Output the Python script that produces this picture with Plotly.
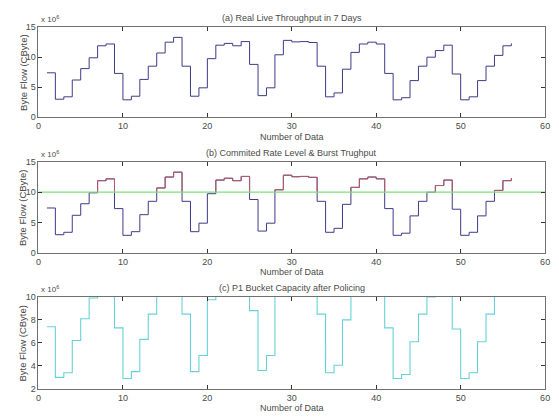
import plotly.graph_objects as go

# ---- data (x10^6 CByte) ----
sample_index = list(range(1, 57))
byte_flow = [7.4, 3.0, 3.4, 6.2, 8.1, 9.9, 11.9, 12.2, 7.3, 2.9,
             3.5, 6.3, 8.5, 10.7, 12.5, 13.3, 8.5, 3.5, 4.9, 9.75,
             12.0, 12.3, 11.9, 12.6, 8.8, 3.6, 4.9, 10.4, 12.8, 12.55,
             12.6, 12.45, 8.5, 3.4, 4.05, 8.0, 10.8, 12.2, 12.5, 12.2,
             7.3, 2.9, 3.25, 6.1, 8.5, 10.0, 11.1, 12.0, 7.2, 2.9,
             3.4, 6.1, 8.5, 10.3, 11.9, 12.3]
rate_level = 10
x_ticks = [0, 10, 20, 30, 40, 50, 60]
y_ticks_ab = [0, 5, 10, 15]
y_ticks_c = [2, 4, 6, 8, 10]
titles = ["(a) Real Live Throughput in 7 Days",
          "(b) Commited Rate Level & Burst Trughput",
          "(c) P1 Bucket Capacity after Policing"]
x_title = "Number of Data"
y_title = "Byte Flow (CByte)"

W, H = 559, 418
FONT = "Liberation Sans Narrow, Arial Narrow, Liberation Sans, Arial"
NAVY = "#3c3c86"
RED = "#b85a68"
GREEN = "#7edc7e"
CYAN = "#66d2d8"
AXC = "#707070"
TXT = "#4a4a4a"


def step_vertices(x, v):
    pts = []
    for i in range(len(x)):
        if i > 0:
            pts.append((x[i], v[i - 1]))
        pts.append((x[i], v[i]))
    return pts


def clip_above(pts, thr):
    xs, ys = [], []
    last = None
    for (x0, y0), (x1, y1) in zip(pts[:-1], pts[1:]):
        if y0 == y1:
            if y0 <= thr:
                continue
            a, b = (x0, y0), (x1, y1)
        else:
            lo, hi = min(y0, y1), max(y0, y1)
            if hi <= thr:
                continue
            lo = max(lo, thr)
            if y0 < y1:
                a, b = (x0, lo), (x1, hi)
            else:
                a, b = (x0, hi), (x1, lo)
        if last is None or last != a:
            if xs:
                xs.append(None)
                ys.append(None)
            xs.append(a[0])
            ys.append(a[1])
        xs.append(b[0])
        ys.append(b[1])
        last = b
    return xs, ys


fig = go.Figure()

# panel domains (pixel -> paper)
x_dom = [36 / W, 550 / W]
panels = [(22.7, 115.0), (160.7, 254.0), (299.0, 393.3)]
y_doms = [[1 - b / H, 1 - t / H] for t, b in panels]

# (a)
fig.add_trace(go.Scatter(x=sample_index, y=byte_flow, mode="lines",
                         line=dict(color=NAVY, width=1.0, shape="hv"),
                         xaxis="x", yaxis="y", showlegend=False))
# (b)
fig.add_trace(go.Scatter(x=sample_index, y=byte_flow, mode="lines",
                         line=dict(color=NAVY, width=1.0, shape="hv"),
                         xaxis="x2", yaxis="y2", showlegend=False))
rx, ry = clip_above(step_vertices(sample_index, byte_flow), rate_level)
fig.add_trace(go.Scatter(x=rx, y=ry, mode="lines",
                         line=dict(color=RED, width=1.0),
                         xaxis="x2", yaxis="y2", showlegend=False))
fig.add_trace(go.Scatter(x=[x_ticks[0], x_ticks[-1]], y=[rate_level, rate_level],
                         mode="lines", line=dict(color=GREEN, width=1.2),
                         xaxis="x2", yaxis="y2", showlegend=False))
# (c)
fig.add_trace(go.Scatter(x=sample_index, y=byte_flow, mode="lines",
                         line=dict(color=CYAN, width=1.1, shape="hv"),
                         xaxis="x3", yaxis="y3", showlegend=False))

axis_common = dict(showline=True, linecolor=AXC, linewidth=1, mirror="ticks",
                   ticks="inside", ticklen=4, tickcolor="#333", tickwidth=1,
                   showgrid=False, zeroline=False,
                   tickfont=dict(family=FONT, size=9, color=TXT))

layout = dict(width=W, height=H, margin=dict(l=0, r=0, t=0, b=0),
              paper_bgcolor="white", plot_bgcolor="white",
              font=dict(family=FONT, color=TXT))
yranges = [[0, 15], [0, 15], [2, 10]]
yticks = [y_ticks_ab, y_ticks_ab, y_ticks_c]
for i in range(3):
    sfx = "" if i == 0 else str(i + 1)
    layout["xaxis" + sfx] = dict(axis_common, domain=x_dom, range=[0, 60],
                                 tickvals=x_ticks, anchor="y" + sfx)
    layout["yaxis" + sfx] = dict(axis_common, domain=y_doms[i], range=yranges[i],
                                 tickvals=yticks[i], anchor="x" + sfx)
fig.update_layout(**layout)

ann = []
for i, (t, b) in enumerate(panels):
    ann.append(dict(text=titles[i], x=293 / W, y=1 - (t - 9.5) / H, xref="paper", yref="paper",
                    showarrow=False, font=dict(family=FONT, size=9, color=TXT),
                    xanchor="center", yanchor="middle"))
    ann.append(dict(text="x 10<sup>6</sup>", x=37 / W, y=1 - (t - 1) / H, xref="paper", yref="paper",
                    showarrow=False, font=dict(family=FONT, size=8, color=TXT),
                    xanchor="left", yanchor="bottom"))
    ann.append(dict(text=x_title, x=293 / W, y=1 - (b + 20) / H, xref="paper", yref="paper",
                    showarrow=False, font=dict(family=FONT, size=9, color=TXT),
                    xanchor="center", yanchor="middle"))
    ann.append(dict(text=y_title, x=20 / W, y=1 - ((t + b) / 2) / H, xref="paper", yref="paper",
                    showarrow=False, textangle=-90,
                    font=dict(family="Liberation Sans, Arial", size=9.5, color=TXT),
                    xanchor="center", yanchor="middle"))
fig.update_layout(annotations=ann)

fig.write_html("out.html")
